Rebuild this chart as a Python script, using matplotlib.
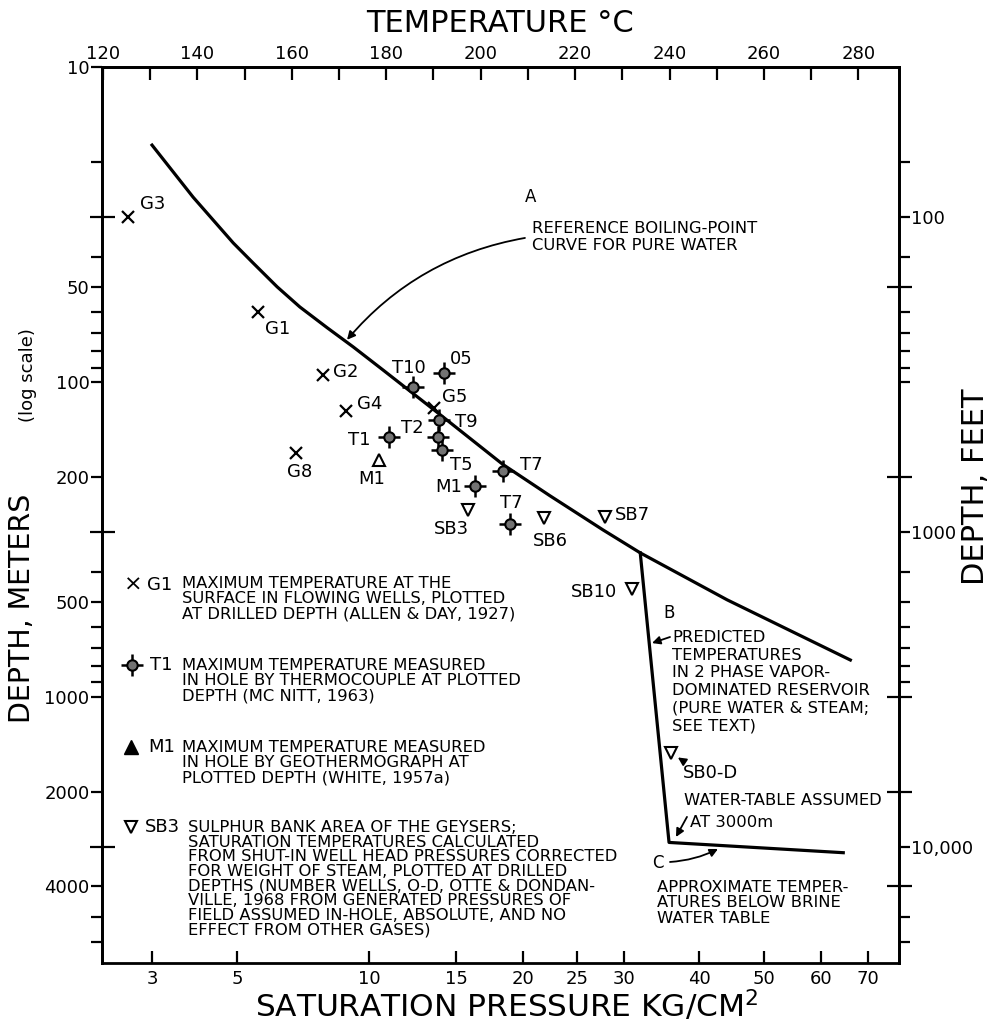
import numpy as np
import matplotlib
matplotlib.use('Agg')
import matplotlib.pyplot as plt
from matplotlib.ticker import NullFormatter, NullLocator

# ---- data (temperature in deg C, depth in meters) ----
# reference boiling-point curve for pure water (A)
boil_t = [130.4, 139.1, 147.6, 151.8, 156.9, 161.7, 167.5, 173.0, 179.3, 191.4,
          204.7, 214.7, 225.9, 233.8, 252.2, 278.3]
boil_d = [17.7, 25.9, 36.2, 41.9, 49.9, 57.8, 67.3, 77.4, 91.6, 127,
          182.8, 230, 295, 349, 492, 764]

# predicted vapor-dominated reservoir (B) then below brine water table (C)
vapor_t = [233.8, 239.9, 276.8]
vapor_d = [349, 2900, 3126]

# flowing wells (x)
well_names = ['G3', 'G1', 'G2', 'G4', 'G8', 'G5']
well_t = [125.3, 152.8, 166.6, 171.5, 160.9, 190.1]
well_d = [30, 60, 95, 124, 168, 121]

# thermocouple measurements
tc_names = ['T10', '05', 'T9', 'T2', 'T1', 'T5', 'M1', 'T7', 'T7']
tc_t = [185.7, 192.2, 191.2, 191.0, 180.6, 191.8, 198.8, 204.7, 206.2]
tc_d = [104, 94, 132, 150, 150, 164, 214, 192, 282]

# geothermograph
geo_names = ['M1']
geo_t = [178.5]
geo_d = [177]

# sulphur bank wells
sb_names = ['SB3', 'SB6', 'SB7', 'SB10', 'SB0-D']
sb_t = [197.3, 213.4, 226.4, 232.1, 240.3]
sb_d = [255, 270, 268, 454, 1506]

# axes ticks
temp_ticks = [120, 140, 160, 180, 200, 220, 240, 260, 280]
p_ticks = [3, 5, 10, 15, 20, 25, 30, 40, 50, 60, 70]
p_tick_temps = [130.4, 148.4, 176.4, 194.8, 209.0, 220.4, 230.4, 246.3, 260.0, 272.1, 282.1]
m_ticks = [10, 50, 100, 200, 500, 1000, 2000, 4000]
ft_ticks_m = [30, 300, 3000]
ft_labels = ['100', '1000', '10,000']

# label offsets in pixels (dx, dy, ha)
well_off = [(12, 13, 'left'), (7, -17, 'left'), (10, 3, 'left'), (11, 7, 'left'),
            (4, -19, 'center'), (8, 11, 'left')]
tc_off = [(-4, 19, 'center'), (6, 14, 'left'), (16, -2, 'left'), (-15, 9, 'right'),
          (-19, -3, 'right'), (8, -15, 'left'), (-13, -1, 'right'), (17, 6, 'left'),
          (1, 21, 'center')]
geo_off = [(-7, -19, 'center')]
sb_off = [(-16, -19, 'center'), (6, -23, 'center'), (10, 2, 'left'), (-15, -3, 'right'),
          (12, -20, 'left')]

plt.rcParams['font.family'] = 'DejaVu Sans'
fig = plt.figure(figsize=(9.94, 10.23), dpi=100)
ax = fig.add_axes([0.1026, 0.0587, 0.8018, 0.8758])
ax.set_xlim(119.8, 288.6)
ax.set_yscale('log')
ax.set_ylim(7000, 10)

LW = 2.0
for s in ax.spines.values():
    s.set_linewidth(LW)

# curves
ax.plot(boil_t, boil_d, color='k', lw=2.3, solid_joinstyle='round')
ax.plot(vapor_t, vapor_d, color='k', lw=2.3)

lab_fs = 13


def put_labels(ts, ds, names, offs):
    for t, d, n, (dx, dy, ha) in zip(ts, ds, names, offs):
        ax.annotate(n, (t, d), xytext=(dx, dy), textcoords='offset pixels',
                    ha=ha, va='center', fontsize=lab_fs)


def tc_symbol(x, y, **kw):
    ax.plot(x, y, ls='none', marker='+', ms=16, mew=1.8, color='k', **kw)
    ax.plot(x, y, ls='none', marker='o', ms=7.5, mfc='0.45', mec='k', mew=1.5, **kw)


ax.plot(well_t, well_d, ls='none', marker='x', ms=9, mew=1.6, color='k')
put_labels(well_t, well_d, well_names, well_off)

tc_symbol(tc_t, tc_d)
put_labels(tc_t, tc_d, tc_names, tc_off)

ax.plot(geo_t, geo_d, ls='none', marker='^', ms=9, mfc='white', mec='k', mew=1.5)
put_labels(geo_t, geo_d, geo_names, geo_off)

ax.plot(sb_t, sb_d, ls='none', marker='v', ms=9, mfc='white', mec='k', mew=1.5)
put_labels(sb_t, sb_d, sb_names, sb_off)

# ---- ticks ----
ax.set_xticks(p_tick_temps, labels=[str(p) for p in p_ticks])
ax.xaxis.set_minor_locator(NullLocator())
ax.tick_params(axis='x', direction='in', length=9, width=1.6, labelsize=13, pad=5)

tax = ax.secondary_xaxis('top')
tax.set_xticks(temp_ticks)
tax.set_xticks([t + 10 for t in temp_ticks[:-1]], minor=True)
tax.tick_params(axis='x', which='both', direction='in', length=9, width=1.6,
                labelsize=13, pad=3)
tax.spines['top'].set_linewidth(LW)

ax.set_yticks(m_ticks, labels=[str(m) for m in m_ticks])
ax.set_yticks([20, 40, 60, 70, 80, 90, 400, 600, 700, 800, 900, 5000, 6000], minor=True)
ax.yaxis.set_minor_formatter(NullFormatter())
ax.tick_params(axis='y', which='both', direction='out', length=8, width=1.6,
               labelsize=13, pad=1)

lax = ax.secondary_yaxis('left')
lax.set_yticks(ft_ticks_m, labels=['', '', ''])
lax.yaxis.set_minor_locator(NullLocator())
lax.tick_params(axis='y', direction='inout', length=18, width=1.6)
lax.spines['left'].set_linewidth(LW)

rax = ax.secondary_yaxis('right')
rax.set_yticks(ft_ticks_m, labels=ft_labels)
rax.set_yticks([20, 40, 60, 70, 80, 90, 100, 400, 500, 600, 700, 800, 900, 5000, 6000],
               minor=True)
rax.yaxis.set_minor_formatter(NullFormatter())
rax.tick_params(axis='y', which='both', direction='out', length=8, width=1.6,
                labelsize=13, pad=1)
rax.spines['right'].set_linewidth(LW)

rax2 = ax.secondary_yaxis('right')
rax2.set_yticks([50, 200, 1000, 2000, 4000], labels=['', '', '', '', ''])
rax2.yaxis.set_minor_locator(NullLocator())
rax2.tick_params(axis='y', direction='inout', length=18, width=1.6)

# ---- axis titles ----
fig.text(0.503, 0.977, 'TEMPERATURE °C', ha='center', va='center', fontsize=22)
fig.text(0.510, 0.017, 'SATURATION PRESSURE KG/CM$^{2}$', ha='center', va='center', fontsize=22.5)
fig.text(0.022, 0.405, 'DEPTH, METERS', rotation=90, ha='center', va='center', fontsize=20.5)
fig.text(0.028, 0.633, '(log scale)', rotation=90, ha='center', va='center', fontsize=13)
fig.text(0.981, 0.524, 'DEPTH, FEET', rotation=90, ha='center', va='center', fontsize=22)

# ---- legend block ----
tfs = 11.8
ax.text(0.0389, 0.4219, '×', transform=ax.transAxes, ha='center', va='center', fontsize=16)
ax.text(0.0565, 0.4219, 'G1', transform=ax.transAxes, ha='left', va='center', fontsize=lab_fs)
ax.text(0.1004, 0.4319, 'MAXIMUM TEMPERATURE AT THE\nSURFACE IN FLOWING WELLS, PLOTTED\n'
        'AT DRILLED DEPTH (ALLEN & DAY, 1927)', transform=ax.transAxes,
        ha='left', va='top', fontsize=tfs, linespacing=1.03)

tc_symbol([0.0376], [0.3326], transform=ax.transAxes)
ax.text(0.0602, 0.3326, 'T1', transform=ax.transAxes, ha='left', va='center', fontsize=lab_fs)
ax.text(0.1004, 0.3404, 'MAXIMUM TEMPERATURE MEASURED\nIN HOLE BY THERMOCOUPLE AT PLOTTED\n'
        'DEPTH (MC NITT, 1963)', transform=ax.transAxes,
        ha='left', va='top', fontsize=tfs, linespacing=1.03)

ax.plot([0.0364], [0.2411], ls='none', marker='^', ms=10, color='k', transform=ax.transAxes)
ax.text(0.0577, 0.2411, 'M1', transform=ax.transAxes, ha='left', va='center', fontsize=lab_fs)
ax.text(0.1004, 0.2489, 'MAXIMUM TEMPERATURE MEASURED\nIN HOLE BY GEOTHERMOGRAPH AT\n'
        'PLOTTED DEPTH (WHITE, 1957a)', transform=ax.transAxes,
        ha='left', va='top', fontsize=tfs, linespacing=1.03)

ax.plot([0.0364], [0.1518], ls='none', marker='v', ms=9, mfc='white', mec='k', mew=1.5,
        transform=ax.transAxes)
ax.text(0.054, 0.1518, 'SB3', transform=ax.transAxes, ha='left', va='center', fontsize=lab_fs)
ax.text(0.1079, 0.1596, 'SULPHUR BANK AREA OF THE GEYSERS;\nSATURATION TEMPERATURES CALCULATED\n'
        'FROM SHUT-IN WELL HEAD PRESSURES CORRECTED\nFOR WEIGHT OF STEAM, PLOTTED AT DRILLED\n'
        'DEPTHS (NUMBER WELLS, O-D, OTTE & DONDAN-\nVILLE, 1968 FROM GENERATED PRESSURES OF\n'
        'FIELD ASSUMED IN-HOLE, ABSOLUTE, AND NO\nEFFECT FROM OTHER GASES)',
        transform=ax.transAxes, ha='left', va='top', fontsize=tfs, linespacing=0.97)

# ---- annotations ----
arr = dict(arrowstyle='-|>', color='k', lw=1.3, mutation_scale=12, shrinkA=0, shrinkB=0)
ax.text(0.5307, 0.8554, 'A', transform=ax.transAxes, ha='left', va='center', fontsize=12)
ax.text(0.5395, 0.8281, 'REFERENCE BOILING-POINT\nCURVE FOR PURE WATER',
        transform=ax.transAxes, ha='left', va='top', fontsize=tfs, linespacing=1.2)
ax.annotate('', xy=(171.7, 73.5), xytext=(0.5307, 0.8092), textcoords=ax.transAxes,
            arrowprops=dict(arr, connectionstyle='arc3,rad=0.18'))

ax.text(0.7039, 0.3906, 'B', transform=ax.transAxes, ha='left', va='center', fontsize=12)
ax.text(0.7152, 0.3717, 'PREDICTED\nTEMPERATURES\nIN 2 PHASE VAPOR-\nDOMINATED RESERVOIR\n'
        '(PURE WATER & STEAM;\nSEE TEXT)', transform=ax.transAxes,
        ha='left', va='top', fontsize=tfs, linespacing=1.22)
ax.annotate('', xy=(236.3, 675), xytext=(0.7127, 0.3638), textcoords=ax.transAxes,
            arrowprops=arr)

ax.annotate('', xy=(sb_t[-1], sb_d[-1]), xytext=(12, -8), textcoords='offset pixels',
            arrowprops=dict(arr, shrinkB=6))

ax.text(0.7302, 0.1897, 'WATER-TABLE ASSUMED', transform=ax.transAxes,
        ha='left', va='top', fontsize=tfs)
ax.text(0.7378, 0.1652, 'AT 3000m', transform=ax.transAxes, ha='left', va='top', fontsize=tfs)
ax.annotate('', xy=(0.7202, 0.1406), xycoords=ax.transAxes, xytext=(0.734, 0.163),
            textcoords=ax.transAxes, arrowprops=arr)

ax.text(0.690, 0.1116, 'C', transform=ax.transAxes, ha='left', va='center', fontsize=12)
ax.annotate('', xy=(0.7729, 0.1272), xycoords=ax.transAxes, xytext=(0.7127, 0.1127),
            textcoords=ax.transAxes, arrowprops=dict(arr, connectionstyle='arc3,rad=0.1'))
ax.text(0.6964, 0.0926, 'APPROXIMATE TEMPER-\nATURES BELOW BRINE\nWATER TABLE',
        transform=ax.transAxes, ha='left', va='top', fontsize=tfs, linespacing=1.03)

fig.savefig('out.png', dpi=100)
